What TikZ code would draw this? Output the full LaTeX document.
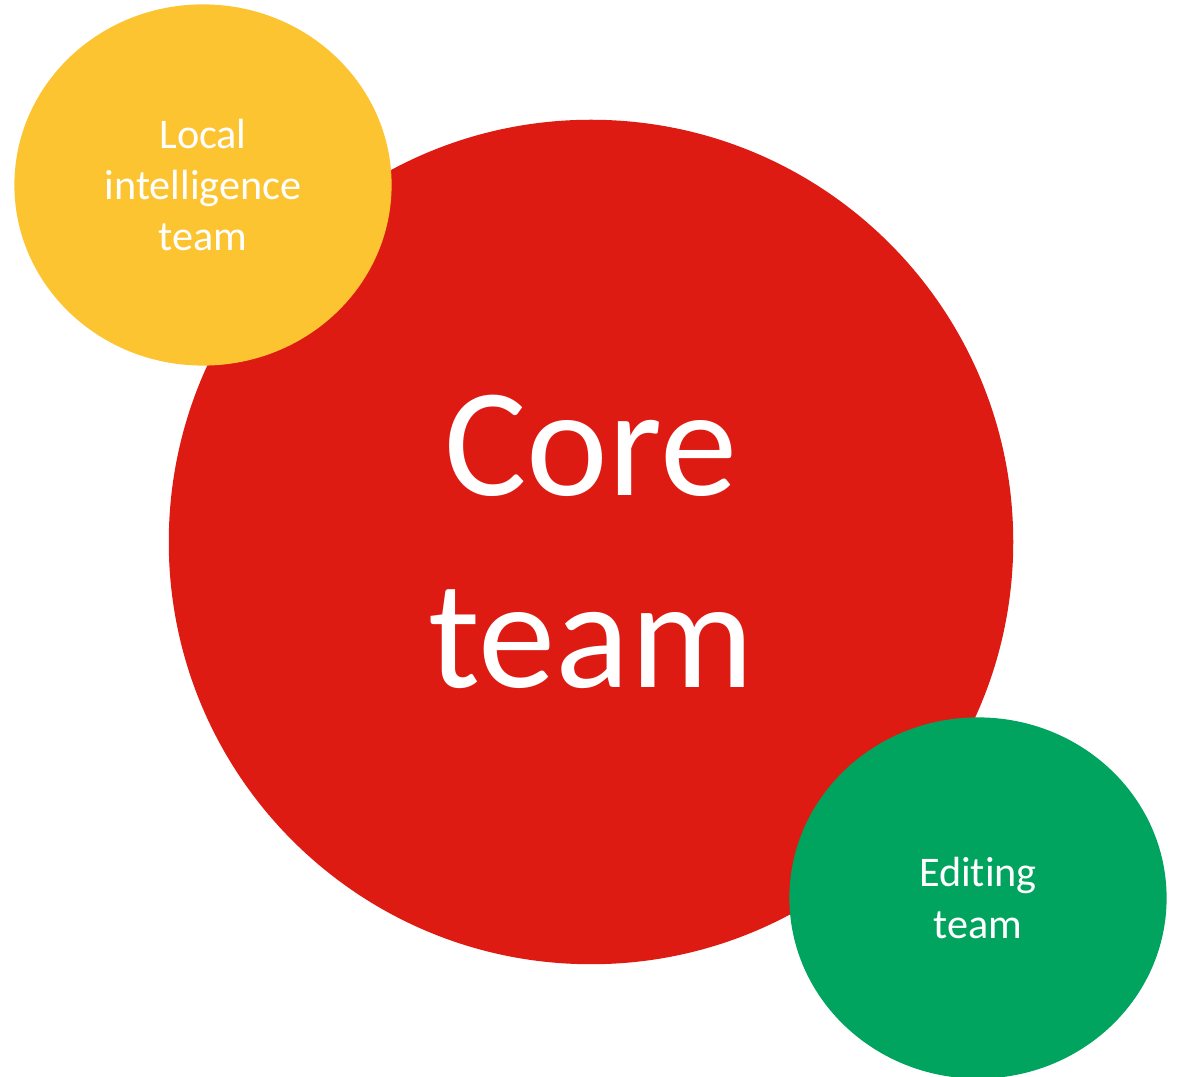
\documentclass[tikz,border=0pt]{standalone}
\usepackage{fontspec}
\setmainfont[RawFeature={-liga;-clig;-calt;-dlig}]{Carlito}
\usepackage{tikz}
\usetikzlibrary{shapes.geometric, positioning}
\definecolor{CoreRed}{HTML}{DE1B12}
\definecolor{LocalYellow}{HTML}{FCC431}
\definecolor{EditGreen}{HTML}{00A45E}

\begin{document}
\begin{tikzpicture}[x=0.01cm, y=-0.01cm,
    team/.style={inner sep=0pt, text=white, align=center},
    smallteam/.style={team, ellipse, minimum width=3.77cm, minimum height=3.61cm,
      font=\fontsize{12}{14.6}\selectfont}]
    % Canvas
    \useasboundingbox (0,0) rectangle (1179,1077);

    % Big red circle
    \node[team, circle, fill=CoreRed, minimum size=8.44cm,
      font=\fontsize{44}{54.6}\selectfont] (core) at (591,542) {Core\\team};

    % Yellow circle, top left
    \node[smallteam, fill=LocalYellow] (local) at (203,185)
      {Local\\intelligence\\team};

    % Green circle, bottom right
    \node[smallteam, fill=EditGreen] (editing) at (978,898)
      {Editing\\team};
  \end{tikzpicture}
\end{document}
